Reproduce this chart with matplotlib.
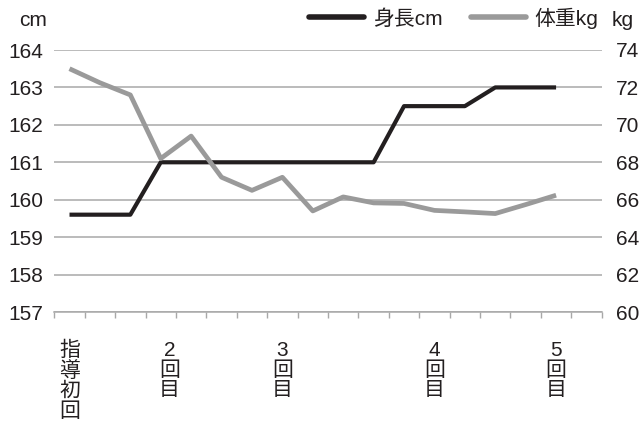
import matplotlib
matplotlib.use("Agg")
import matplotlib.pyplot as plt
import numpy as np

plt.rcParams['font.family'] = ['Liberation Sans', 'Noto Sans CJK JP', 'DejaVu Sans']

# ---- data ----
height_cm = [159.6, 159.6, 159.6, 161, 161, 161, 161, 161, 161, 161, 161,
             162.5, 162.5, 162.5, 163, 163, 163]
weight_kg = [73.0, 72.25, 71.6, 68.2, 69.4, 67.2, 66.5, 67.2, 65.4, 66.15,
             65.83, 65.8, 65.43, 65.35, 65.26, 65.74, 66.24]
n_categories = 18
xlabels = ["指導初回", "2回目", "3回目", "4回目", "5回目"]
xlabel_pos = [0, 3.28, 7, 12, 16]
left_ticks = [157, 158, 159, 160, 161, 162, 163, 164]
right_ticks = [60, 62, 64, 66, 68, 70, 72, 74]
series_names = ["身長cm", "体重kg"]

BLACK = "#231f20"
GRAY = "#9a9a9a"
GRID = "#a8a8a8"

fig = plt.figure(figsize=(6.41, 4.22), dpi=100)
ax = fig.add_axes([54.3 / 641, 1 - 312 / 422, (601.7 - 54.3) / 641, (312 - 50) / 422])
ax2 = ax.twinx()

x = np.arange(len(height_cm))
l1, = ax.plot(x, height_cm, color=BLACK, lw=3.0, solid_joinstyle='round',
              solid_capstyle='butt', zorder=3)
l2, = ax2.plot(np.arange(len(weight_kg)), weight_kg, color=GRAY, lw=3.4,
               solid_joinstyle='round', solid_capstyle='butt', zorder=3)

ax.set_xlim(-0.5, n_categories - 0.5)
ax.set_ylim(157, 164)
ax2.set_ylim(60, 74)
ax.set_yticks(left_ticks)
ax2.set_yticks(right_ticks)
ax.yaxis.grid(True, color=GRID, lw=1.1)
ax.set_axisbelow(True)

for a in (ax, ax2):
    for s in ('top', 'left', 'right'):
        a.spines[s].set_visible(False)
    a.spines['bottom'].set_visible(False)
ax.spines['bottom'].set_visible(True)
ax.spines['bottom'].set_color(GRID)
ax.spines['bottom'].set_linewidth(1.1)

ax.tick_params(axis='y', length=0, pad=8, labelsize=15, labelcolor=BLACK)
ax2.tick_params(axis='y', length=0, pad=10, labelsize=15, labelcolor=BLACK)

ax.set_xticks(np.arange(-0.5, n_categories, 1.0), minor=True)
ax.set_xticks(xlabel_pos)
ax.set_xticklabels(["\n".join(s) for s in xlabels], linespacing=1.06)
ax.tick_params(axis='x', which='major', length=0, pad=21, labelsize=15, labelcolor=BLACK)
ax.tick_params(axis='x', which='minor', length=4, width=1.0, color=GRID, direction='out')

# axis unit labels
fig.text(33 / 641, 1 - 20 / 422, "cm", ha='center', va='center', fontsize=15, color=BLACK)
fig.text(623 / 641, 1 - 20 / 422, "kg", ha='center', va='center', fontsize=15, color=BLACK)

leg = fig.legend([l1, l2], series_names, loc='center right',
                 bbox_to_anchor=(598 / 641, 1 - 18 / 422), ncol=2, frameon=False,
                 fontsize=15, handlelength=2.65, handletextpad=0.4, columnspacing=1.35,
                 borderpad=0, borderaxespad=0)
for h in leg.legend_handles:
    h.set_linewidth(4.0)
    h.set_solid_capstyle('round')
for t in leg.get_texts():
    t.set_color(BLACK)

fig.savefig("out.png", dpi=100)
